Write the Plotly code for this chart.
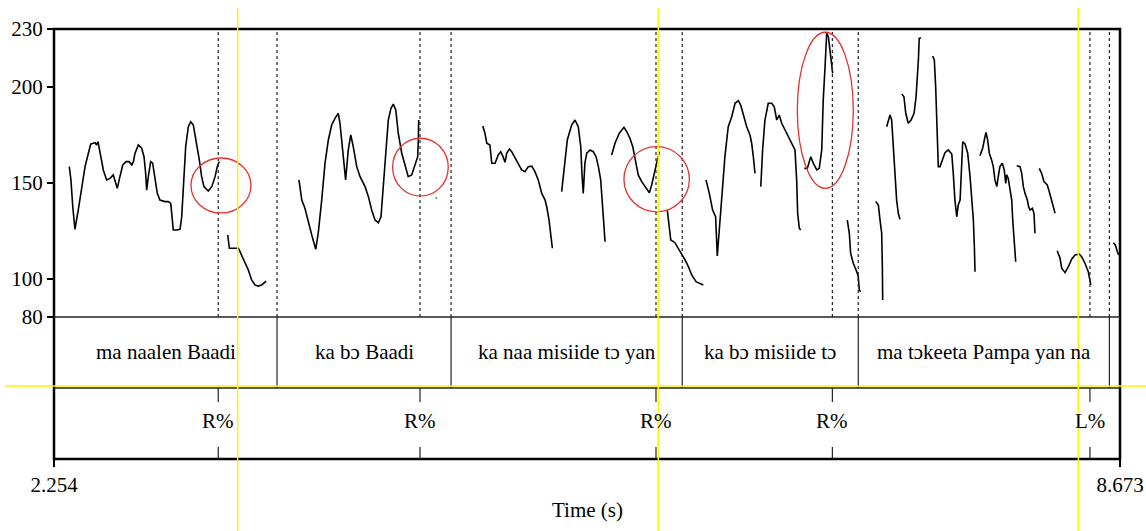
import plotly.graph_objects as go

# ---------------- data ----------------
# Pitch track (time in s, F0 in Hz); None separates voiced stretches
pitch_time = [
    2.346,2.356,2.367,2.380,2.400,2.421,2.441,2.461,2.475,2.501,
    2.511,2.519,2.531,2.551,2.571,2.591,2.611,2.621,2.635,2.651,
    2.668,2.688,2.707,2.722,2.732,2.742,2.762,2.782,2.796,2.806,
    2.812,2.822,2.836,2.848,2.862,2.876,2.892,2.922,2.942,2.957,
    2.963,2.972,2.993,3.013,3.023,3.033,3.047,3.063,3.077,3.093,
    3.113,3.129,3.143,3.157,3.183,3.204,3.224,3.237,3.249, None,
    3.300,3.310,3.324,3.364,3.374,3.404,3.424,3.444,3.464,3.484,3.505,3.531, None,
    3.729,3.746,3.765,3.785,3.806,3.830,3.845,3.866,3.886,3.906,
    3.926,3.946,3.966,3.976,3.992,4.010,4.026,4.041,4.056,4.077,
    4.097,4.127,4.147,4.167,4.187,4.207,4.223,4.237,4.253,4.267,
    4.283,4.297,4.312,4.327,4.348,4.368,4.387,4.408,4.428,4.444,
    4.448,4.450, None,
    4.552,4.558, None,
    4.836,4.849,4.860,4.879,4.890,4.910,4.929,4.944,4.956,4.970,
    4.980,4.996,5.010,5.030,5.050,5.070,5.090,5.110,5.131,5.150,
    5.170,5.191,5.211,5.221,5.235,5.245,5.255, None,
    5.311,5.331,5.345,5.371,5.391,5.411,5.426,5.433,5.441,5.451,
    5.462,5.482,5.501,5.518,5.532,5.546,5.556,5.566,5.572, None,
    5.612,5.632,5.658,5.686,5.703,5.722,5.739,5.753,5.772,5.793,
    5.813,5.839,5.853,5.869,5.883,5.899, None,
    5.947,5.957,5.968,5.993,6.013,6.034,6.054,6.074,6.094,6.120,6.144,6.164, None,
    6.180,6.200,6.220,6.238,6.248,6.260,6.275,6.294,6.314,6.335,
    6.355,6.375,6.389,6.405,6.425,6.445,6.455,6.465,6.475, None,
    6.510,6.521,6.535,6.555,6.576,6.591,6.606,6.621,6.636,6.656,
    6.676,6.696,6.716,6.726,6.732,6.742,6.750, None,
    6.772,6.790,6.811,6.826,6.847,6.862,6.877,6.886,6.897,6.907,
    6.917,6.927,6.937,6.943, None,
    7.031,7.043,7.051,7.067,7.088,7.097,7.103,7.112, None,
    7.202,7.218,7.228,7.238,7.242,7.244, None,
    7.268,7.278,7.288,7.298,7.308,7.318,7.328,7.338,7.348, None,
    7.359,7.372,7.383,7.398,7.415,7.433,7.445,7.452,7.459,7.464,7.475, None,
    7.545,7.555,7.563,7.573,7.579,7.589,7.603,7.619,7.639,7.660,
    7.669,7.679,7.690,7.699,7.710,7.720,7.726,7.740,7.756,7.770,
    7.780,7.790,7.796,7.800, None,
    7.830,7.846,7.856,7.866,7.876,7.886,7.900,7.910,7.920,7.931,
    7.940,7.950,7.964,7.976,7.985,7.991,8.000,8.011,8.021,8.027,
    8.035,8.045, None,
    8.051,8.071,8.081,8.091,8.101,8.115,8.123,8.131,8.145,8.155,8.161, None,
    8.187,8.201,8.215,8.235,8.247,8.262,8.282, None,
    8.295,8.312,8.322,8.342,8.362,8.382,8.402,8.428,8.442,8.462,8.482,8.497, None,
    8.633,8.645,8.657,8.665,
]
pitch_hz = [
    158.3,151.4,137.4,125.7,135.7,147.9,158.3,165.3,170.1,170.8,
    169.6,171.3,165.3,156.6,151.4,152.2,154.0,151.4,147.0,153.1,
    159.2,160.9,160.9,159.2,160.9,165.3,169.6,167.9,163.5,154.8,
    146.1,153.1,160.9,160.1,151.4,144.4,140.9,140.1,140.1,139.2,
    134.0,125.3,125.3,125.7,132.2,149.6,168.7,179.1,181.7,180.0,
    170.5,161.8,153.1,147.9,145.6,147.9,153.1,158.3,160.9, None,
    122.7,115.8,115.8,115.8,114.0,108.0,104.5,99.3,96.7,96.1,96.7,98.7, None,
    151.4,140.9,136.6,130.5,122.7,115.3,123.6,140.9,160.1,172.2,
    180.0,183.5,186.1,180.9,165.3,151.4,167.0,174.8,168.7,158.3,
    153.1,147.9,142.7,135.7,130.5,129.1,132.2,147.9,168.7,182.6,
    188.7,190.9,187.8,175.7,165.3,158.3,153.1,154.0,159.2,163.5,
    172.2,182.6, None,
    142.0,142.0, None,
    179.5,175.7,170.5,169.6,160.1,160.1,164.4,166.1,163.9,160.6,
    165.3,167.5,166.1,162.7,160.1,156.6,155.7,158.3,158.6,155.7,
    151.4,144.4,140.9,137.4,130.5,123.6,115.8, None,
    145.3,163.5,172.2,180.0,182.6,179.1,168.7,154.8,144.4,160.1,
    165.3,167.0,166.1,163.5,158.3,151.4,140.9,127.0,119.2, None,
    164.4,170.5,175.7,178.8,176.5,173.1,168.7,161.8,154.0,150.5,
    147.9,144.7,148.8,154.8,160.1,166.1, None,
    135.7,127.0,120.1,118.7,115.8,112.3,109.7,106.2,101.9,98.4,97.6,96.7, None,
    151.4,144.4,135.7,132.2,111.8,125.3,140.9,163.5,179.1,184.3,
    191.3,192.7,190.4,185.2,179.1,174.8,170.5,163.5,154.8, None,
    147.9,167.0,182.6,191.3,191.3,189.5,182.6,185.2,180.9,177.4,
    173.9,170.5,167.0,151.4,134.0,126.2,125.3, None,
    157.4,157.4,163.5,160.1,156.6,157.4,167.0,193.0,210.4,227.8,
    226.0,219.1,213.9,206.9, None,
    130.5,123.6,113.2,108.0,103.6,101.0,94.1,93.2, None,
    140.1,138.3,130.5,123.6,106.2,88.9, None,
    179.1,181.7,185.2,182.6,168.7,153.1,140.9,134.0,130.9, None,
    196.1,194.7,186.1,180.9,182.6,186.1,194.7,203.4,213.9,225.2,225.5, None,
    215.9,213.9,200.0,179.1,158.3,158.3,161.8,165.6,167.0,164.9,
    154.8,140.9,132.2,138.3,140.9,156.6,171.3,170.1,165.3,153.1,
    142.7,130.5,116.6,103.6, None,
    164.0,167.9,172.2,176.2,172.2,165.3,161.8,158.3,151.4,147.9,
    153.1,158.3,160.1,156.6,149.6,154.0,152.2,146.1,140.9,130.5,
    120.1,108.8, None,
    158.8,158.3,154.8,147.9,144.4,140.9,137.4,135.7,136.6,134.0,123.6, None,
    157.4,154.8,150.5,148.8,145.3,140.9,134.0, None,
    114.5,110.6,105.4,103.1,106.2,110.1,112.3,112.8,111.4,108.0,103.6,96.7, None,
    118.7,117.5,114.0,112.3,
]
assert len(pitch_time) == len(pitch_hz)

# Tier 1: words (interval tier)
word_labels = ["ma naalen Baadi", "ka bɔ Baadi", "ka naa misiide tɔ yan",
               "ka bɔ misiide tɔ", "ma tɔkeeta Pampa yan na", ""]
word_bounds = [2.254, 3.597, 4.645, 6.037, 7.097, 8.609, 8.673]

# Tier 2: boundary tones (point tier)
tone_labels = ["R%", "R%", "R%", "R%", "L%"]
tone_times = [3.243, 4.458, 5.879, 6.941, 8.492]

# Axis ticks
time_range = [2.254, 8.673]
pitch_range = [80, 230]
pitch_ticks = [80, 100, 150, 200, 230]

# Red highlight ellipses: (t_start, t_end, Hz_low, Hz_high)
highlight_t0 = [3.079, 4.293, 5.686, 6.730]
highlight_t1 = [3.440, 4.628, 6.080, 7.067]
highlight_f0 = [134.2, 143.0, 134.8, 147.0]
highlight_f1 = [162.8, 173.1, 168.7, 228.3]

# Yellow guide lines (times)
guide_times = [3.360, 5.893, 8.422]

# ---------------- figure ----------------
FONT = "Liberation Serif, Times New Roman, DejaVu Serif, serif"
W, H = 1146, 531
ML, MR, MT, MB = 54, 26, 29, 72
plot_h = H - MT - MB  # 430
pitch_bottom = (459 - 317) / plot_h
tier_sep = (459 - 388) / plot_h

fig = go.Figure()
fig.add_trace(go.Scatter(
    x=pitch_time, y=pitch_hz, mode="lines",
    line=dict(color="black", width=1.6),
    connectgaps=False, hoverinfo="skip", showlegend=False,
))

shapes = []
# frame
shapes.append(dict(type="rect", xref="paper", yref="paper", x0=0, x1=1, y0=0, y1=1,
                   line=dict(color="black", width=2.5), layer="above"))
shapes.append(dict(type="line", xref="paper", yref="paper", x0=0, x1=1,
                   y0=pitch_bottom, y1=pitch_bottom, line=dict(color="#222", width=1.6)))
shapes.append(dict(type="line", xref="paper", yref="paper", x0=0, x1=1,
                   y0=tier_sep, y1=tier_sep, line=dict(color="#222", width=1.4)))
# word boundaries
for b in word_bounds[1:-1]:
    shapes.append(dict(type="line", xref="x", yref="paper", x0=b, x1=b,
                       y0=tier_sep, y1=pitch_bottom, line=dict(color="#222", width=1.2)))
    shapes.append(dict(type="line", xref="x", yref="paper", x0=b, x1=b,
                       y0=pitch_bottom, y1=1, line=dict(color="#222", width=1.2, dash="3px,3px")))
# tone points
tick_top = 14 / plot_h
tick_bot = 12 / plot_h
for t in tone_times:
    shapes.append(dict(type="line", xref="x", yref="paper", x0=t, x1=t,
                       y0=tier_sep - tick_top, y1=tier_sep, line=dict(color="#222", width=1.2)))
    shapes.append(dict(type="line", xref="x", yref="paper", x0=t, x1=t,
                       y0=0, y1=tick_bot, line=dict(color="#222", width=1.2)))
    shapes.append(dict(type="line", xref="x", yref="paper", x0=t, x1=t,
                       y0=pitch_bottom, y1=1, line=dict(color="#222", width=1.2, dash="3px,3px")))
# red ellipses
for a, b, c, d in zip(highlight_t0, highlight_t1, highlight_f0, highlight_f1):
    shapes.append(dict(type="circle", xref="x", yref="y", x0=a, x1=b, y0=c, y1=d,
                       line=dict(color="#e8302c", width=1.3)))
# yellow guides
y_top = (459 - 8) / plot_h
y_bot = (459 - 531) / plot_h
for g in guide_times:
    shapes.append(dict(type="line", xref="x", yref="paper", x0=g, x1=g,
                       y0=y_bot, y1=y_top, line=dict(color="#fff200", width=1.5), layer="above"))
y_h = (459 - 386) / plot_h
shapes.append(dict(type="line", xref="paper", yref="paper", x0=(5 - ML) / (W - ML - MR),
                   x1=(W - ML) / (W - ML - MR), y0=y_h, y1=y_h,
                   line=dict(color="#fff200", width=1.5), layer="above"))

annotations = []
tier1_y = (459 - 352) / plot_h
tier2_y = (459 - 421) / plot_h
for i, lab in enumerate(word_labels):
    if not lab:
        continue
    xc = (word_bounds[i] + word_bounds[i + 1]) / 2
    annotations.append(dict(x=xc, y=tier1_y, xref="x", yref="paper", text=lab,
                            showarrow=False, font=dict(family=FONT, size=21, color="black"),
                            xanchor="center", yanchor="middle"))
for t, lab in zip(tone_times, tone_labels):
    annotations.append(dict(x=t, y=tier2_y, xref="x", yref="paper", text=lab,
                            showarrow=False, font=dict(family=FONT, size=21, color="black"),
                            xanchor="center", yanchor="middle"))
annotations.append(dict(x=0.5, y=(459 - 510) / plot_h, xref="paper", yref="paper",
                        text="Time (s)", showarrow=False,
                        font=dict(family=FONT, size=21, color="black"),
                        xanchor="center", yanchor="middle"))

fig.update_layout(
    width=W, height=H, autosize=False,
    margin=dict(l=ML, r=MR, t=MT, b=MB, pad=0, autoexpand=False),
    paper_bgcolor="white", plot_bgcolor="white",
    font=dict(family=FONT, size=21, color="black"),
    shapes=shapes, annotations=annotations, showlegend=False,
    xaxis=dict(range=time_range, anchor="free", position=0, automargin=False,
               showgrid=False, zeroline=False, showline=False,
               ticks="outside", ticklen=7, tickwidth=2, tickcolor="black",
               tickvals=time_range, ticktext=[f"{v:.3f}" for v in time_range],
               tickfont=dict(family=FONT, size=21, color="black")),
    yaxis=dict(range=pitch_range, domain=[pitch_bottom, 1], anchor="x", automargin=False,
               showgrid=False, zeroline=False, showline=False,
               ticks="outside", ticklen=6, tickwidth=2, tickcolor="black",
               tickvals=pitch_ticks, ticktext=[str(v) for v in pitch_ticks],
               tickfont=dict(family=FONT, size=21, color="black")),
)

fig.write_html("out.html", config={"displayModeBar": False, "responsive": False},
               post_script="document.body.style.margin='0';document.body.style.overflow='hidden';")
